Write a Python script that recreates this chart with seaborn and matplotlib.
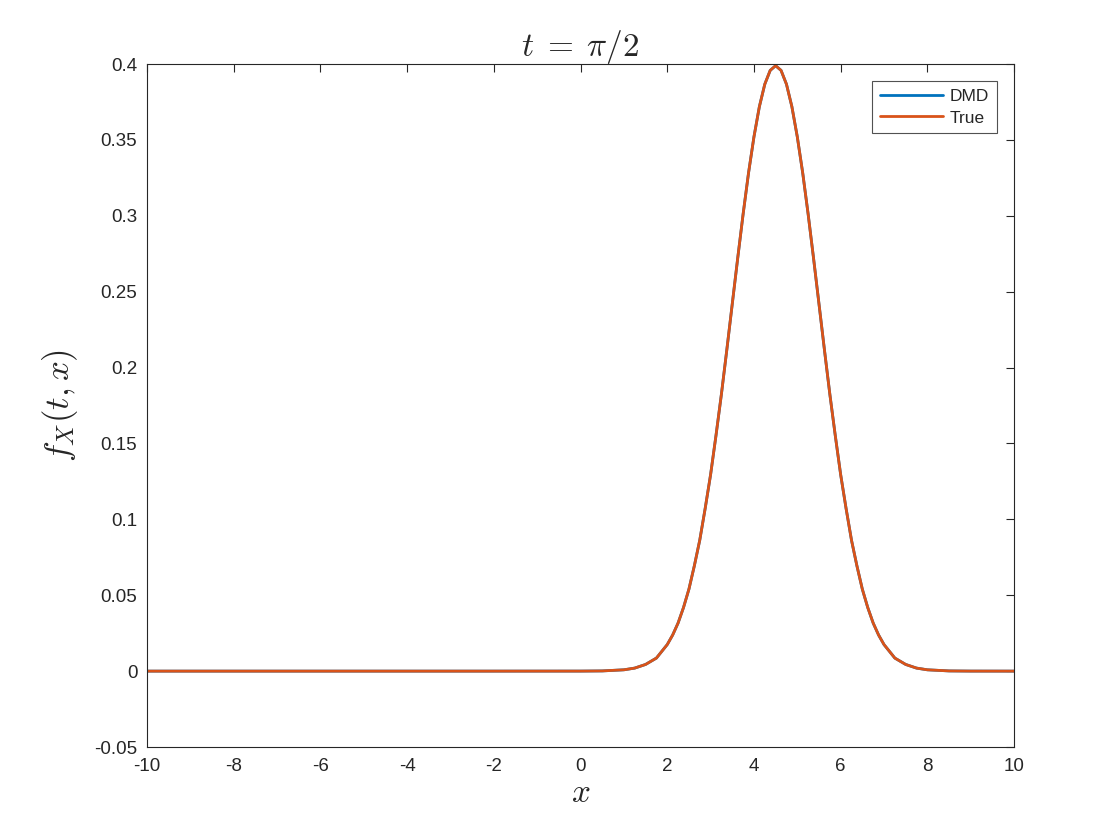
import matplotlib
matplotlib.use("Agg")
import matplotlib.pyplot as plt
import seaborn as sns
import pandas as pd

x_vals = [-10, -8, -6, -4, -2, 0, 0.5, 1, 1.25, 1.5, 1.75, 2, 2.125, 2.25, 2.375,
          2.5, 2.625, 2.75, 2.875, 3, 3.125, 3.25, 3.375, 3.5, 3.625, 3.75,
          3.875, 4, 4.125, 4.25, 4.375, 4.5, 4.625, 4.75, 4.875, 5, 5.125,
          5.25, 5.375, 5.5, 5.625, 5.75, 5.875, 6, 6.125, 6.25, 6.375, 6.5,
          6.625, 6.75, 6.875, 7, 7.25, 7.5, 7.75, 8, 8.5, 9, 10]
dmd_vals = [0, 0, 0, 0, 0, 0.00002, 0.00013, 0.00087, 0.0020, 0.0044, 0.0086,
            0.0175, 0.0238, 0.0317, 0.0419, 0.054, 0.0694, 0.0863, 0.1072,
            0.1295, 0.1554, 0.1826, 0.2119, 0.242, 0.2720, 0.3011, 0.3282,
            0.352, 0.3719, 0.3867, 0.3958, 0.3989, 0.3958, 0.3867, 0.3719,
            0.352, 0.3282, 0.3011, 0.2720, 0.242, 0.2119, 0.1826, 0.1554,
            0.1295, 0.1072, 0.0863, 0.0694, 0.054, 0.0419, 0.0317, 0.0238,
            0.0175, 0.0086, 0.0044, 0.0020, 0.00087, 0.00013, 0.00002, 0]
true_vals = list(dmd_vals)
series_names = ["DMD", "True"]
colors = ["#0072BD", "#D95319"]

df = pd.DataFrame({
    "x": x_vals * 2,
    "y": dmd_vals + true_vals,
    "series": [series_names[0]] * len(x_vals) + [series_names[1]] * len(x_vals),
})

sns.set_style("white")
plt.rcParams["font.family"] = ["Liberation Sans", "DejaVu Sans"]
plt.rcParams["mathtext.fontset"] = "cm"

fig = plt.figure(figsize=(11.2, 8.4), dpi=100)
ax = fig.add_axes([0.1313, 0.1107, 0.7741, 0.8131])
sns.lineplot(data=df, x="x", y="y", hue="series", palette=colors,
             linewidth=2, ax=ax, legend=True)

ax.set_xlim(-10, 10)
ax.set_ylim(-0.05, 0.4)
ax.set_xticks(range(-10, 11, 2))
ax.set_xticklabels([str(v) for v in range(-10, 11, 2)])
yt = [-0.05, 0, 0.05, 0.1, 0.15, 0.2, 0.25, 0.3, 0.35, 0.4]
ax.set_yticks(yt)
ax.set_yticklabels(["-0.05", "0", "0.05", "0.1", "0.15", "0.2", "0.25", "0.3", "0.35", "0.4"])
ax.tick_params(direction="in", top=True, right=True, length=6, width=0.8,
               labelsize=13.5, colors="#262626")
ax.tick_params(axis="y", pad=7)
ax.tick_params(axis="x", pad=8)
for s in ax.spines.values():
    s.set_color("#262626")
    s.set_linewidth(0.8)

ax.set_xlabel("$x$", fontsize=24, labelpad=2)
ax.set_ylabel("$f_X(t,x)$", fontsize=25, labelpad=10)
ax.set_title("$t\\;=\\;\\pi/2$", fontsize=24, pad=6)

leg = ax.legend(loc="upper right", fontsize=12.5, frameon=True, fancybox=False,
                edgecolor="#262626", handlelength=3.6, borderaxespad=1.0,
                borderpad=0.45, labelspacing=0.35, handletextpad=0.4)
leg.get_frame().set_linewidth(0.8)

fig.savefig("out.png", dpi=100, facecolor="white")
